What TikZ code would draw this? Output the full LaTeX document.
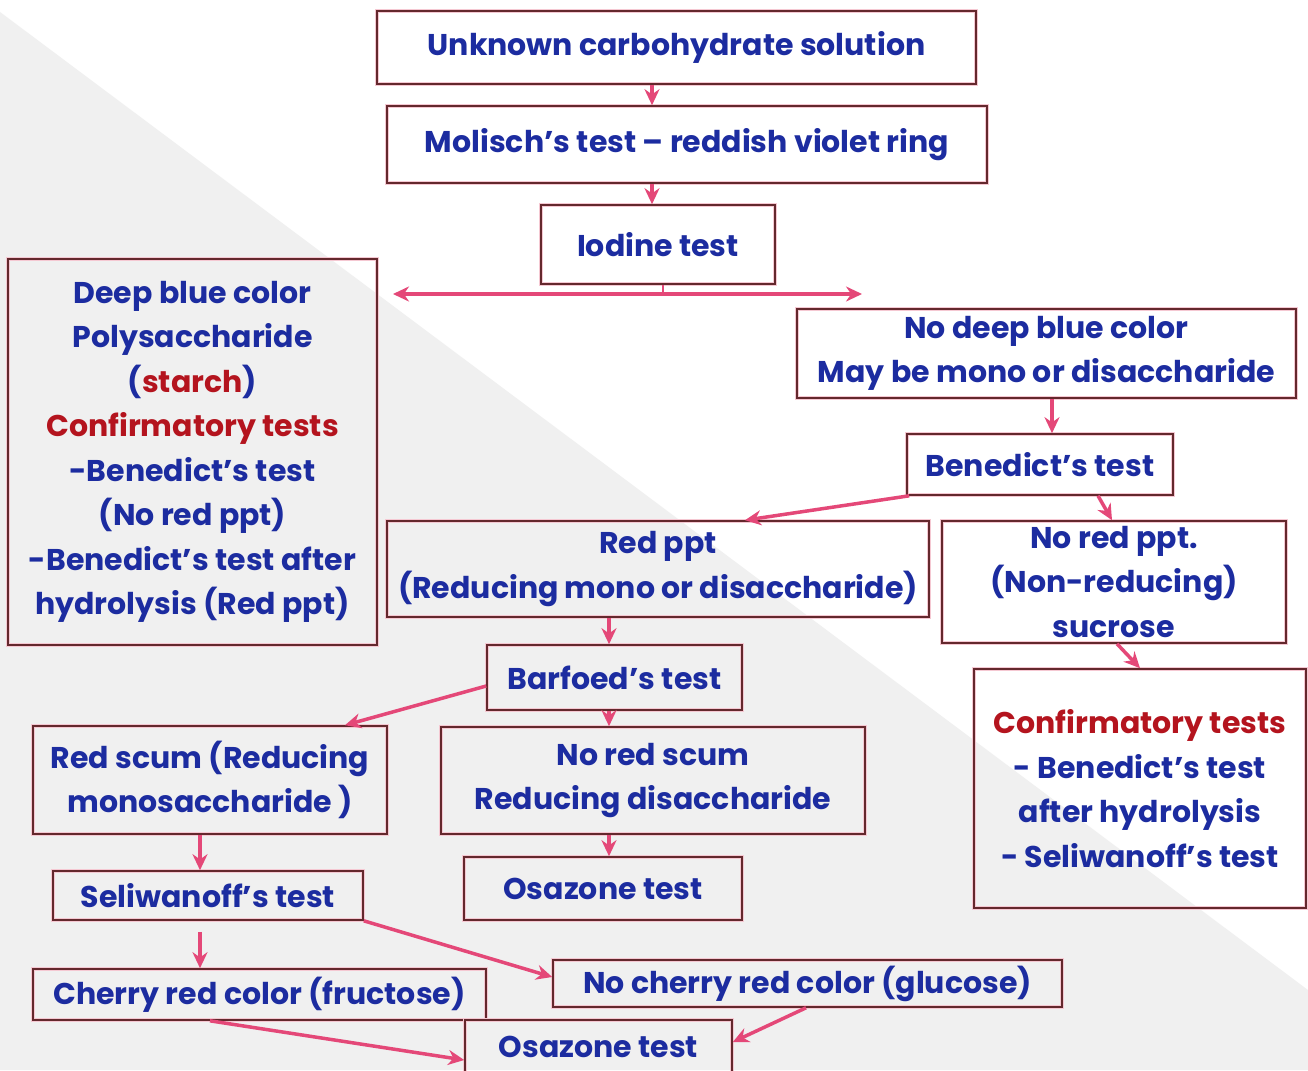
\documentclass[tikz,border=0pt]{standalone}
\usepackage{fontspec}
\setmainfont{Poppins}
\usetikzlibrary{arrows.meta,calc}
\definecolor{txtblue}{RGB}{28,44,160}
\definecolor{txtred}{RGB}{180,20,30}
\definecolor{boxc}{RGB}{100,40,45}
\definecolor{boxglow}{RGB}{245,200,210}
\definecolor{arrc}{RGB}{228,72,120}
\definecolor{arrglow}{RGB}{248,200,215}
\definecolor{bgc}{RGB}{240,240,240}
\begin{document}
\begin{tikzpicture}[x=1pt,y=-1pt,
  box/.style={draw=boxc, line width=1.6pt, preaction={draw=boxglow,line width=4.5pt},
    inner sep=0pt, align=center, text=txtblue,
    font=\fontsize{30}{44.5}\selectfont\bfseries},
  arr/.style={draw=arrc, line width=3.5pt, -{Stealth[length=16pt,width=15pt]}},
  dblarr/.style={draw=arrc, line width=3.8pt, {Stealth[length=16pt,width=15pt]}-{Stealth[length=16pt,width=15pt]}},
  stub/.style={draw=arrc, line width=2.5pt}]
\useasboundingbox (0,0) rectangle (1308,1070);
\fill[white] (0,0) rectangle (1308,1070);
\fill[bgc] (0,12) -- (1308,990) -- (1308,1070) -- (0,1070) -- cycle;
\clip (0,0) rectangle (1308,1070);

\node[box, minimum width=599pt, minimum height=73pt] (n1) at (676.5,47.5) {Unknown carbohydrate solution};
\node[box, minimum width=600pt, minimum height=77pt] (n2) at (687,144.5) {Molisch’s test – reddish violet ring};
\node[box, minimum width=234pt, minimum height=79pt] (n3) at (658,244.5) {Iodine test};
\node[box, minimum width=369pt, minimum height=386pt] (n4) at (192.5,452) {Deep blue color\\Polysaccharide\\(\textcolor{txtred}{starch})\\\textcolor{txtred}{Confirmatory tests}\\-Benedict’s test\\(No red ppt)\\-Benedict’s test after\\hydrolysis (Red ppt)};
\node[box, minimum width=499pt, minimum height=89pt] (n5) at (1046.5,353.5) {No deep blue color\\May be mono or disaccharide};
\node[box, minimum width=266pt, minimum height=61pt] (n6) at (1040,464.5) {Benedict’s test};
\node[box, minimum width=542pt, minimum height=96pt] (n7) at (658,569) {Red ppt\\(Reducing mono or disaccharide)};
\node[box, minimum width=344pt, minimum height=122pt] (n8) at (1114,582) {No red ppt.\\(Non-reducing)\\sucrose};
\node[box, minimum width=332pt, minimum height=239pt] (n9) at (1140,788.5) {\textcolor{txtred}{Confirmatory tests}\\- Benedict’s test\\after hydrolysis\\- Seliwanoff’s test};
\node[box, minimum width=255pt, minimum height=65pt] (n10) at (614.5,677.5) {Barfoed’s test};
\node[box, minimum width=354pt, minimum height=108pt] (n11) at (210,780) {Red scum (Reducing\\monosaccharide )};
\node[box, minimum width=424pt, minimum height=107pt] (n12) at (653,780.5) {No red scum\\Reducing disaccharide};
\node[box, minimum width=278pt, minimum height=63pt] (n13) at (603,888.5) {Osazone test};
\node[box, minimum width=310pt, minimum height=49pt] (n14) at (208,895.5) {Seliwanoff’s test};
\node[box, minimum width=453pt, minimum height=51pt] (n15) at (259.5,994.5) {Cherry red color (fructose)};
\node[box, minimum width=509pt, minimum height=47pt] (n16) at (807.5,983.5) {No cherry red color (glucose)};
\node[box, minimum width=267pt, minimum height=54pt] (n17) at (598.5,1047) {Osazone test};

\draw[arr] (652,0 |- n1.south) -- (652,0 |- n2.north);
\draw[arr] (652,0 |- n2.south) -- (652,0 |- n3.north);
\coordinate (L) at (393,294);
\coordinate (R) at (862,294);
\draw[stub] (663,0 |- n3.south) -- (663,294);
\draw[dblarr] (L) -- (R);
\draw[arr] (1052,0 |- n5.south) -- (1052,0 |- n6.north);
\draw[arr] ($(n6.south west)+(3,0)$) -- (745,0 |- n7.north);
\draw[arr] (1098,0 |- n6.south) -- (1112,0 |- n8.north);
\draw[arr] (1117,0 |- n8.south) -- (1140,0 |- n9.north);
\draw[arr] (609,0 |- n7.south) -- (609,0 |- n10.north);
\draw[arr] (n10.west |- 0,686) -- (345,0 |- n11.north);
\draw[arr] (609,0 |- n10.south) -- (609,0 |- n12.north);
\draw[arr] (609,0 |- n12.south) -- (609,0 |- n13.north);
\draw[arr] (200,0 |- n11.south) -- (200,0 |- n14.north);
\draw[arr, shorten <=11pt] (200,0 |- n14.south) -- (200,0 |- n15.north);
\draw[arr] (n14.south east) -- (n16.west |- 0,977);
\draw[arr] (210,0 |- n15.south) -- (n17.west |- 0,1060);
\draw[arr] (806,0 |- n16.south) -- (n17.east |- 0,1042);
\end{tikzpicture}
\end{document}
